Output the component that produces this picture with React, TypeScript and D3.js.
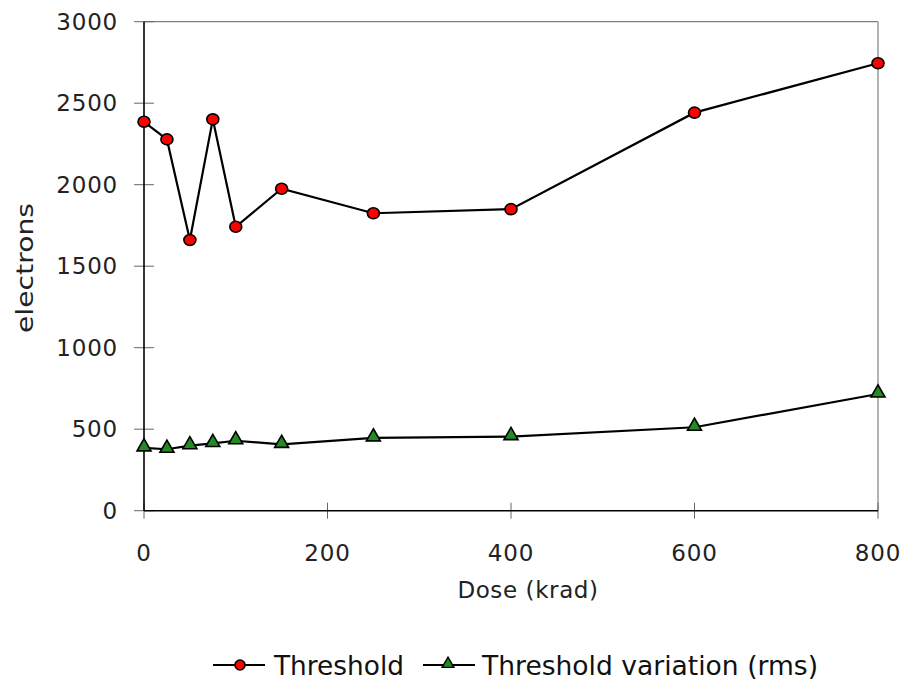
import React from "react";
import * as d3 from "d3";

const doses = [0, 25, 50, 75, 100, 150, 250, 400, 600, 800];
const threshold = [2386, 2278, 1661, 2401, 1742, 1975, 1825, 1850, 2442, 2745];
const thresholdVariation = [386, 377, 399, 413, 429, 407, 447, 455, 512, 716];
const xTicks = [0, 200, 400, 600, 800];
const yTicks = [0, 500, 1000, 1500, 2000, 2500, 3000];
const seriesNames = ["Threshold", "Threshold variation (rms)"];

const W = 903;
const H = 681;
const L = 144, R = 878, T = 21.7, B = 510.7;
const FONT = "'DejaVu Sans', sans-serif";

export default function App() {
  const x = d3.scaleLinear().domain([0, 800]).range([L, R]);
  const y = d3.scaleLinear().domain([0, 3000]).range([B, T]);
  const line = d3
    .line<[number, number]>()
    .x((d) => x(d[0]))
    .y((d) => y(d[1]));
  const tData: [number, number][] = doses.map((d, i) => [d, threshold[i]]);
  const vData: [number, number][] = doses.map((d, i) => [d, thresholdVariation[i]]);
  const tri = d3.symbol().type(d3.symbolTriangle).size(85)() as string;

  const tickStyle = { fontFamily: FONT, fontSize: 23, fill: "#222", letterSpacing: 0.8 } as const;
  const titleStyle = { fontFamily: FONT, fontSize: 23, fill: "#222" } as const;
  const legStyle = { fontFamily: FONT, fontSize: 27, fill: "#111" } as const;

  return (
    <svg width={W} height={H} style={{ position: "absolute", left: 0, top: 0 }}>
      <rect width={W} height={H} fill="#fff" />
      {/* frame */}
      <line x1={L} x2={R} y1={T} y2={T} stroke="#808080" strokeWidth={1.2} />
      <line x1={R} x2={R} y1={T} y2={B} stroke="#808080" strokeWidth={1.2} />
      {/* y ticks */}
      {yTicks.map((t) => (
        <g key={"y" + t}>
          <line x1={L - 10} x2={L + 10} y1={y(t)} y2={y(t)} stroke="#666" strokeWidth={1} />
          <text x={118} y={y(t)} dy="0.36em" textAnchor="end" {...tickStyle}>
            {t}
          </text>
        </g>
      ))}
      {/* x ticks */}
      {xTicks.map((t) => (
        <g key={"x" + t}>
          <line x1={x(t)} x2={x(t)} y1={B - 8} y2={B + 8} stroke="#666" strokeWidth={1} />
          <text x={x(t)} y={561} textAnchor="middle" {...tickStyle}>
            {t}
          </text>
        </g>
      ))}
      {/* axes */}
      <line x1={L} x2={L} y1={T} y2={B} stroke="#000" strokeWidth={1.6} />
      <line x1={L} x2={R} y1={B} y2={B} stroke="#000" strokeWidth={1.6} />
      {/* titles */}
      <text x={528} y={598} textAnchor="middle" letterSpacing={0.6} {...titleStyle}>
        Dose (krad)
      </text>
      <text
        transform={`translate(${33},${333}) rotate(-90)`}
        textLength={130}
        lengthAdjust="spacingAndGlyphs"
        {...titleStyle}
      >
        electrons
      </text>
      {/* lines */}
      <path d={line(tData) as string} fill="none" stroke="#000" strokeWidth={2.2} />
      <path d={line(vData) as string} fill="none" stroke="#000" strokeWidth={2.2} />
      {tData.map((d, i) => (
        <ellipse key={"t" + i} cx={x(d[0])} cy={y(d[1])} rx={6} ry={5.5} fill="#ff0000" stroke="#000" strokeWidth={1.6} />
      ))}
      {vData.map((d, i) => (
        <path key={"v" + i} d={tri} transform={`translate(${x(d[0])},${y(d[1]) - 1})`} fill="#228b22" stroke="#000" strokeWidth={1.6} />
      ))}
      {/* legend */}
      <g>
        <line x1={213} x2={265} y1={665} y2={665} stroke="#000" strokeWidth={2.2} />
        <ellipse cx={240} cy={665} rx={5} ry={5} fill="#ff0000" stroke="#000" strokeWidth={1.6} />
        <text x={274} y={675} textLength={130} lengthAdjust="spacingAndGlyphs" {...legStyle}>
          {seriesNames[0]}
        </text>
        <line x1={423} x2={475} y1={665} y2={665} stroke="#000" strokeWidth={2.2} />
        <path d={d3.symbol().type(d3.symbolTriangle).size(60)() as string} transform={`translate(448,664)`} fill="#228b22" stroke="#000" strokeWidth={1.4} />
        <text x={482} y={675} textLength={336} lengthAdjust="spacingAndGlyphs" {...legStyle}>
          {seriesNames[1]}
        </text>
      </g>
    </svg>
  );
}
